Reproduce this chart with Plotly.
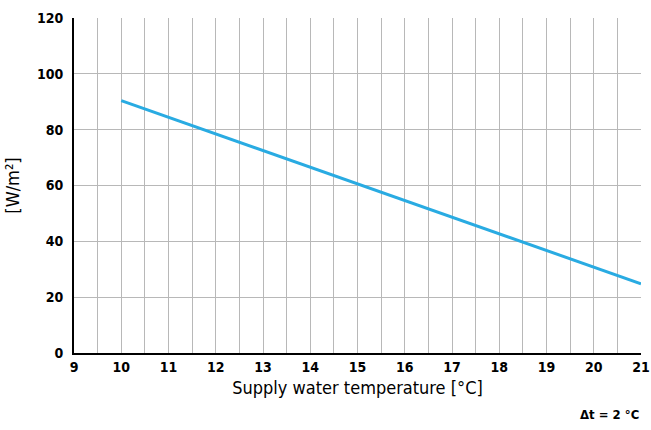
import plotly.graph_objects as go

temps = [10, 21]
values = [90.4, 24.8]
x_ticks = list(range(9, 22))
y_ticks = [0, 20, 40, 60, 80, 100, 120]

FONT = "DejaVu Sans Condensed, Roboto, sans-serif"

fig = go.Figure()
fig.add_trace(go.Scatter(x=temps, y=values, mode="lines",
                         line=dict(color="#29abe2", width=3), showlegend=False,
                         hoverinfo="skip"))

fig.update_xaxes(range=[9, 21], tickvals=x_ticks, showgrid=True, gridcolor="#b8b8b8", gridwidth=1,
                 minor=dict(dtick=0.5, tick0=9, showgrid=True, gridcolor="#b8b8b8", gridwidth=1),
                 showline=True, linecolor="black", linewidth=2, zeroline=False,
                 ticks="", ticklen=0, automargin=False,
                 tickfont=dict(family=FONT, size=14, color="black", weight="bold"),
                 title=dict(text="Supply water temperature [°C]", font=dict(family=FONT, size=18, color="black"), standoff=8))
fig.update_yaxes(range=[0, 120], tickvals=y_ticks, showgrid=True, gridcolor="#b8b8b8", gridwidth=1,
                 showline=True, linecolor="black", linewidth=2, zeroline=False,
                 ticks="", ticklen=0, automargin=False, ticklabelstandoff=6,
                 tickfont=dict(family=FONT, size=14, color="black", weight="bold"),
                 title=dict(text="[W/m²]", font=dict(family=FONT, size=18, color="black"), standoff=13))

fig.add_annotation(text="Δt = 2 °C", xref="paper", yref="paper", x=1, y=-0.155,
                   xanchor="right", yanchor="top", showarrow=False,
                   font=dict(family=FONT, size=13, color="black", weight="bold"))

fig.update_layout(width=651, height=430, margin=dict(l=74, r=10, t=18, b=77),
                  plot_bgcolor="white", paper_bgcolor="white")

fig.write_html("out.html")
